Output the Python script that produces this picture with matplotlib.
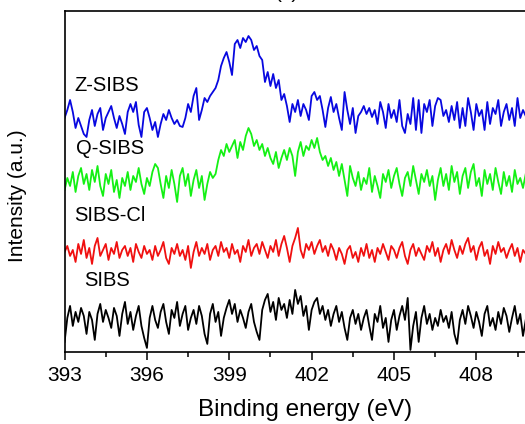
import numpy as np
import matplotlib
matplotlib.use("Agg")
import matplotlib.pyplot as plt

plt.rcParams['font.family'] = ['Liberation Sans', 'DejaVu Sans']

# Binding energy grid: start and step (eV)
e_start = 393.0
e_step = 0.1

# Intensities (a.u.), one value per 0.1 eV from 393.0 eV
z_sibs = [
    234, 242, 252, 240, 224, 234, 226, 218, 215, 232,
    242, 226, 238, 244, 222, 234, 240, 246, 234, 224,
    236, 228, 218, 240, 248, 240, 250, 227, 215, 240,
    244, 234, 222, 230, 215, 228, 238, 232, 242, 234,
    228, 232, 226, 225, 234, 248, 240, 256, 264, 232,
    242, 254, 250, 256, 260, 264, 272, 286, 294, 300,
    290, 277, 308, 312, 304, 314, 310, 316, 312, 302,
    306, 296, 292, 270, 280, 266, 278, 264, 272, 252,
    258, 246, 230, 248, 240, 252, 236, 248, 242, 232,
    256, 260, 252, 256, 242, 225, 244, 255, 240, 248,
    234, 222, 260, 242, 228, 244, 219, 236, 240, 246,
    238, 244, 235, 242, 228, 250, 240, 224, 248, 234,
    242, 230, 252, 226, 219, 238, 228, 254, 222, 252,
    219, 248, 240, 252, 226, 246, 254, 252, 236, 242,
    230, 246, 232, 250, 224, 244, 226, 254, 240, 222,
    248, 236, 242, 222, 250, 228, 244, 238, 252, 226,
    240, 248, 232, 244, 226, 254, 234, 242, 236,
]

q_sibs = [
    162, 174, 166, 180, 160, 176, 184, 168, 178, 162,
    182, 170, 186, 166, 156, 178, 168, 182, 160, 172,
    154, 174, 166, 180, 162, 176, 170, 184, 168, 158,
    174, 166, 180, 188, 184, 168, 154, 176, 164, 182,
    168, 150, 176, 184, 166, 178, 156, 172, 182, 164,
    176, 152, 168, 180, 174, 178, 192, 202, 196, 208,
    200, 206, 212, 194, 210, 202, 216, 224, 218, 206,
    212, 202, 208, 196, 204, 194, 188, 200, 184, 194,
    202, 192, 204, 196, 176, 200, 210, 196, 206, 202,
    212, 204, 214, 200, 192, 196, 186, 194, 182, 190,
    176, 188, 172, 156, 186, 174, 166, 180, 162, 174,
    168, 184, 160, 176, 166, 154, 178, 170, 182, 164,
    176, 184, 168, 156, 174, 180, 166, 186, 172, 158,
    178, 170, 182, 166, 176, 152, 172, 184, 166, 178,
    162, 186, 170, 180, 158, 176, 184, 164, 180, 188,
    166, 174, 156, 182, 168, 178, 162, 184, 170, 158,
    180, 166, 176, 160, 182, 168, 174, 164, 178,
]

sibs_cl = [
    100, 106, 96, 102, 90, 108, 98, 112, 94, 104,
    88, 106, 114, 96, 102, 108, 92, 104, 98, 110,
    94, 102, 106, 96, 104, 90, 108, 100, 94, 106,
    98, 102, 92, 106, 96, 102, 110, 94, 88, 104,
    98, 108, 96, 102, 92, 106, 84, 100, 110, 96,
    104, 98, 108, 92, 102, 106, 96, 110, 100, 104,
    94, 108, 98, 102, 90, 106, 100, 112, 96, 104,
    108, 98, 110, 102, 94, 106, 100, 112, 96, 108,
    116, 104, 90, 106, 114, 124, 102, 94, 108, 102,
    110, 98, 106, 112, 100, 106, 96, 108, 102, 92,
    104, 98, 88, 102, 106, 94, 100, 90, 104, 96,
    108, 94, 102, 90, 104, 98, 108, 100, 92, 106,
    102, 94, 104, 110, 96, 88, 102, 108, 96, 104,
    98, 92, 106, 100, 110, 96, 104, 90, 102, 108,
    98, 112, 102, 94, 106, 98, 108, 114, 100, 106,
    92, 104, 110, 96, 102, 88, 106, 98, 110, 100,
    104, 94, 102, 108, 96, 104, 90, 102, 98,
]

sibs = [
    10, 34, 46, 26, 40, 30, 44, 36, 18, 40,
    32, 12, 38, 48, 30, 42, 34, 24, 44, 36,
    16, 38, 50, 28, 40, 22, 36, 46, 26, 14,
    4, 34, 46, 32, 24, 40, 48, 30, 18, 42,
    34, 50, 26, 38, 46, 22, 34, 42, 28, 46,
    36, 18, 8, 38, 48, 30, 40, 16, 34, 44,
    52, 38, 48, 30, 42, 34, 24, 40, 48, 30,
    20, 12, 42, 52, 58, 40, 50, 32, 54, 42,
    48, 34, 52, 38, 62, 48, 56, 36, 46, 22,
    42, 50, 54, 38, 46, 32, 42, 26, 38, 46,
    30, 40, 24, 12, 34, 42, 28, 38, 22, 34,
    42, 26, 12, 38, 30, 46, 24, 34, 10, 32,
    42, 22, 36, 46, 32, 54, 2, 26, 40, 10,
    34, 46, 28, 38, 22, 34, 26, 42, 30, 36,
    24, 40, 18, 8, 32, 42, 28, 46, 36, 24,
    40, 30, 16, 38, 46, 26, 34, 22, 40, 28,
    44, 36, 20, 34, 46, 28, 38, 16, 32,
]

series = [
    ("Z-SIBS", z_sibs, "#0808e0"),
    ("Q-SIBS", q_sibs, "#14f014"),
    ("SIBS-Cl", sibs_cl, "#f01010"),
    ("SIBS", sibs, "#000000"),
]
labels_pos = {  # (energy, intensity) anchor of text labels
    "Z-SIBS": (393.35, 267),
    "Q-SIBS": (393.4, 203),
    "SIBS-Cl": (393.35, 136),
    "SIBS": (393.7, 71),
}

x_ticks = [393, 396, 399, 402, 405, 408]

fig = plt.figure(figsize=(5.25, 4.24), dpi=100)
ax = fig.add_axes([0.123, 0.170, 0.915, 0.804])

for name, vals, col in series:
    e = e_start + e_step * np.arange(len(vals))
    ax.plot(e, vals, color=col, lw=1.3)
    lx, ly = labels_pos[name]
    ax.text(lx, ly, name, fontsize=14.5, va='center', ha='left', color='black')

ax.set_xlim(393, 410.5)
ax.set_ylim(0, 341)
ax.set_xticks(x_ticks)
ax.set_xticks(np.arange(394.5, 410.5, 3.0), minor=True)
ax.set_yticks([])
ax.tick_params(axis='x', which='major', direction='out', length=6, width=1.1, labelsize=15, pad=4)
ax.tick_params(axis='x', which='minor', direction='out', length=3.5, width=1.1)
for sp in ax.spines.values():
    sp.set_linewidth(1.2)
ax.set_xlabel("Binding energy (eV)", fontsize=17.5, labelpad=10)
ax.set_ylabel("Intensity (a.u.)", fontsize=15)
ax.yaxis.set_label_coords(-0.078, 0.457)

fig.text(287 / 525, 1.0 + 1.5 / 424, "(c)", ha='center', va='baseline', fontsize=15)

fig.savefig("out.png", dpi=100)
